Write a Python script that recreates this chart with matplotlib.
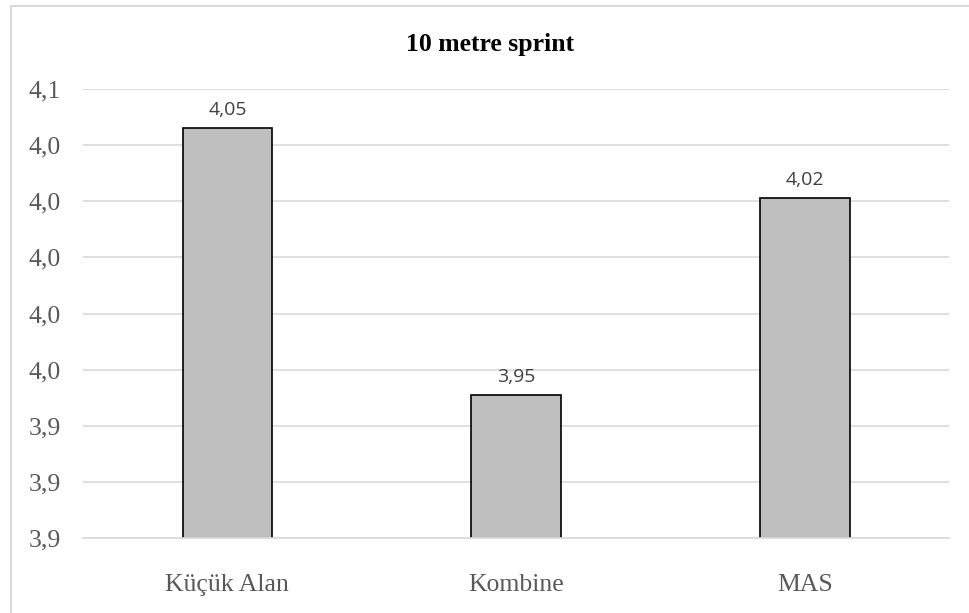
import matplotlib.pyplot as plt
from matplotlib.patches import Rectangle

categories = ['Küçük Alan', 'Kombine', 'MAS']
values = [4.046, 3.951, 4.021]
value_labels = ['4,05', '3,95', '4,02']
y_ticks = [3.90, 3.92, 3.94, 3.96, 3.98, 4.00, 4.02, 4.04, 4.06]

fig = plt.figure(figsize=(9.7, 6.13), dpi=100)
ax = fig.add_axes([0.0856, 0.122, 0.893, 0.733])

x = range(len(categories))
ax.bar(x, values, width=0.31, color='#bfbfbf', edgecolor='black', linewidth=1.2, zorder=3)

for i, v in enumerate(values):
    ax.text(i, v + 0.0033, value_labels[i], ha='center', va='bottom',
            fontsize=14, color='#404040', family='Open Sans')

ax.set_ylim(3.90, 4.06)
ax.set_xlim(-0.5, 2.5)
ax.set_yticks(y_ticks)
ax.set_yticklabels([('%.1f' % t).replace('.', ',') for t in y_ticks],
                   fontsize=18.5, color='#595959', family='Liberation Serif')
ax.set_xticks(list(x))
ax.set_xticklabels(categories, fontsize=18.5, color='#595959', family='Liberation Serif')
ax.tick_params(axis='y', length=0, pad=16)
ax.tick_params(axis='x', length=0, pad=26)

ax.grid(axis='y', color='#d9d9d9', linewidth=1.2, zorder=0)
for s in ['top', 'right', 'left']:
    ax.spines[s].set_visible(False)
ax.spines['bottom'].set_color('#d9d9d9')
ax.spines['bottom'].set_linewidth(1.2)
ax.spines['bottom'].set_zorder(4)

fig.text(0.505, 0.927, '10 metre sprint', ha='center', va='center',
         fontsize=18.5, fontweight='bold', family='Liberation Serif', color='black')

fig.patches.append(Rectangle((0.011, -0.05), 1.1, 1.04, transform=fig.transFigure,
                             fill=False, edgecolor='#d9d9d9', linewidth=1.5))

fig.savefig('out.png', dpi=100)
